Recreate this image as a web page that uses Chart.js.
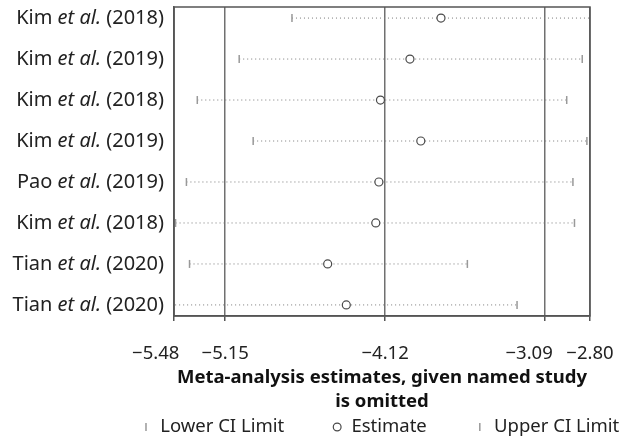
<!DOCTYPE html>
<html>
<head>
<meta charset="utf-8">
<script src="https://cdn.jsdelivr.net/npm/chart.js@4/dist/chart.umd.min.js"></script>
<style>
  body { margin: 0; background: #fff; }
  #wrap { width: 636px; height: 440px; }
</style>
</head>
<body>
<div id="wrap"><canvas id="forest"></canvas></div>
<script>
// studies (top to bottom) and the omitted-study estimates
const studyAuthors = ["Kim", "Kim", "Kim", "Kim", "Pao", "Kim", "Tian", "Tian"];
const studyYears = [2018, 2019, 2018, 2019, 2019, 2018, 2020, 2020];
const estimates = [-3.76, -3.96, -4.15, -3.89, -4.16, -4.18, -4.49, -4.37];
const lowerCI = [-4.72, -5.06, -5.33, -4.97, -5.40, -5.47, -5.38, -5.55];
const upperCI = [-2.70, -2.85, -2.95, -2.82, -2.91, -2.90, -3.59, -3.27];
const xTicks = [-5.48, -5.15, -4.12, -3.09, -2.80];

Chart.defaults.font.family = "'Noto Sans', sans-serif";
Chart.defaults.color = "#222";

// crowded tick labels get pushed left a little with trailing figure spaces
const labelPad = { "-5.48": "\u2007\u2007\u2007 ", "-3.09": "\u2007\u2007\u2007" };
const fmt = v => "\u2212" + Math.abs(v).toFixed(2) + (labelPad[v.toFixed(2)] || "");

const markerSets = [
  {
    label: "Lower CI Limit",
    data: lowerCI.map((v, i) => ({ x: v, y: i })),
    pointStyle: "line", pointRotation: 90, pointRadius: 4,
    borderColor: "#999", borderWidth: 1.5, showLine: false, order: 1
  },
  {
    label: "Estimate",
    data: estimates.map((v, i) => ({ x: v, y: i })),
    pointStyle: "circle", pointRadius: 4,
    backgroundColor: "#fff", borderColor: "#4a4a4a", borderWidth: 1.2, showLine: false, order: 2
  },
  {
    label: "Upper CI Limit",
    data: upperCI.map((v, i) => ({ x: v, y: i })),
    pointStyle: "line", pointRotation: 90, pointRadius: 4,
    borderColor: "#999", borderWidth: 1.5, showLine: false, order: 3
  }
];

// dotted line for each study from lower to upper limit
const ciLines = lowerCI.map((lo, i) => ({
  label: "ci" + i,
  type: "line",
  data: [{ x: lo, y: i }, { x: upperCI[i], y: i }],
  borderColor: "#7a7a7a", borderWidth: 1, borderDash: [1, 3],
  pointRadius: 0, order: 10
}));

// box round the plot
const frame = {
  id: "frame",
  afterDraw(chart) {
    const { ctx, chartArea: a } = chart;
    ctx.save();
    ctx.strokeStyle = "#555";
    ctx.lineWidth = 1.5;
    ctx.strokeRect(a.left, a.top, a.right - a.left, a.bottom - a.top);
    ctx.restore();
  }
};

// study names with italic "et al."
const studyLabels = {
  id: "studyLabels",
  afterDraw(chart) {
    const { ctx, chartArea } = chart;
    const y = chart.scales.y;
    const reg = "20px 'Noto Sans', sans-serif";
    const ital = "italic 20px 'Noto Sans', sans-serif";
    ctx.save();
    ctx.fillStyle = "#222";
    ctx.textBaseline = "middle";
    ctx.textAlign = "left";
    studyAuthors.forEach((name, i) => {
      const parts = [[name + " ", reg], ["et al.", ital], [" (" + studyYears[i] + ")", reg]];
      let w = 0;
      parts.forEach(p => { ctx.font = p[1]; w += ctx.measureText(p[0]).width; });
      let x = chartArea.left - 10 - w;
      const py = y.getPixelForValue(i);
      parts.forEach(p => {
        ctx.font = p[1];
        ctx.fillText(p[0], x, py);
        x += ctx.measureText(p[0]).width;
      });
    });
    ctx.restore();
  }
};

new Chart(document.getElementById("forest"), {
  type: "scatter",
  data: { datasets: [...markerSets, ...ciLines] },
  plugins: [frame, studyLabels],
  options: {
    responsive: true,
    maintainAspectRatio: false,
    animation: false,
    // legend is centred under the plot, so the right side is widened off-canvas
    layout: { padding: { top: 7, right: -124.2, left: 0, bottom: -6.25 } },
    plugins: {
      tooltip: { enabled: false },
      legend: {
        position: "bottom",
        labels: {
          usePointStyle: true,
          boxWidth: 10, boxHeight: 5.5,
          padding: 48,
          font: { size: 18.5 },
          color: "#222",
          filter: item => item.datasetIndex < 3
        }
      }
    },
    scales: {
      x: {
        type: "linear",
        min: -5.48, max: -2.80,
        afterBuildTicks: scale => { scale.ticks = xTicks.map(v => ({ value: v })); },
        ticks: { callback: v => fmt(v), font: { size: 18.5 }, color: "#222", padding: 22, autoSkip: false, maxRotation: 0 },
        grid: { color: "#707070", lineWidth: 1.5, tickLength: 5, tickColor: "#555" },
        border: { color: "#555", width: 1.5 },
        title: {
          display: true,
          text: ["Meta-analysis estimates, given named study", "is omitted"],
          font: { size: 18.5, weight: "bold", lineHeight: 1.3 },
          color: "#111",
          padding: { top: -21.25, bottom: -44.3 }
        }
      },
      y: {
        type: "linear",
        reverse: true,
        min: -0.27, max: 7.27,
        afterFit: scale => { scale.width = 174; },
        ticks: { display: false },
        grid: { display: false },
        border: { display: true, color: "#555", width: 1.5 }
      },
      yRight: {
        type: "linear",
        position: "right",
        afterFit: scale => { scale.width = 170.2; },
        ticks: { display: false },
        grid: { display: false },
        border: { display: false }
      }
    }
  }
});
</script>
</body>
</html>
